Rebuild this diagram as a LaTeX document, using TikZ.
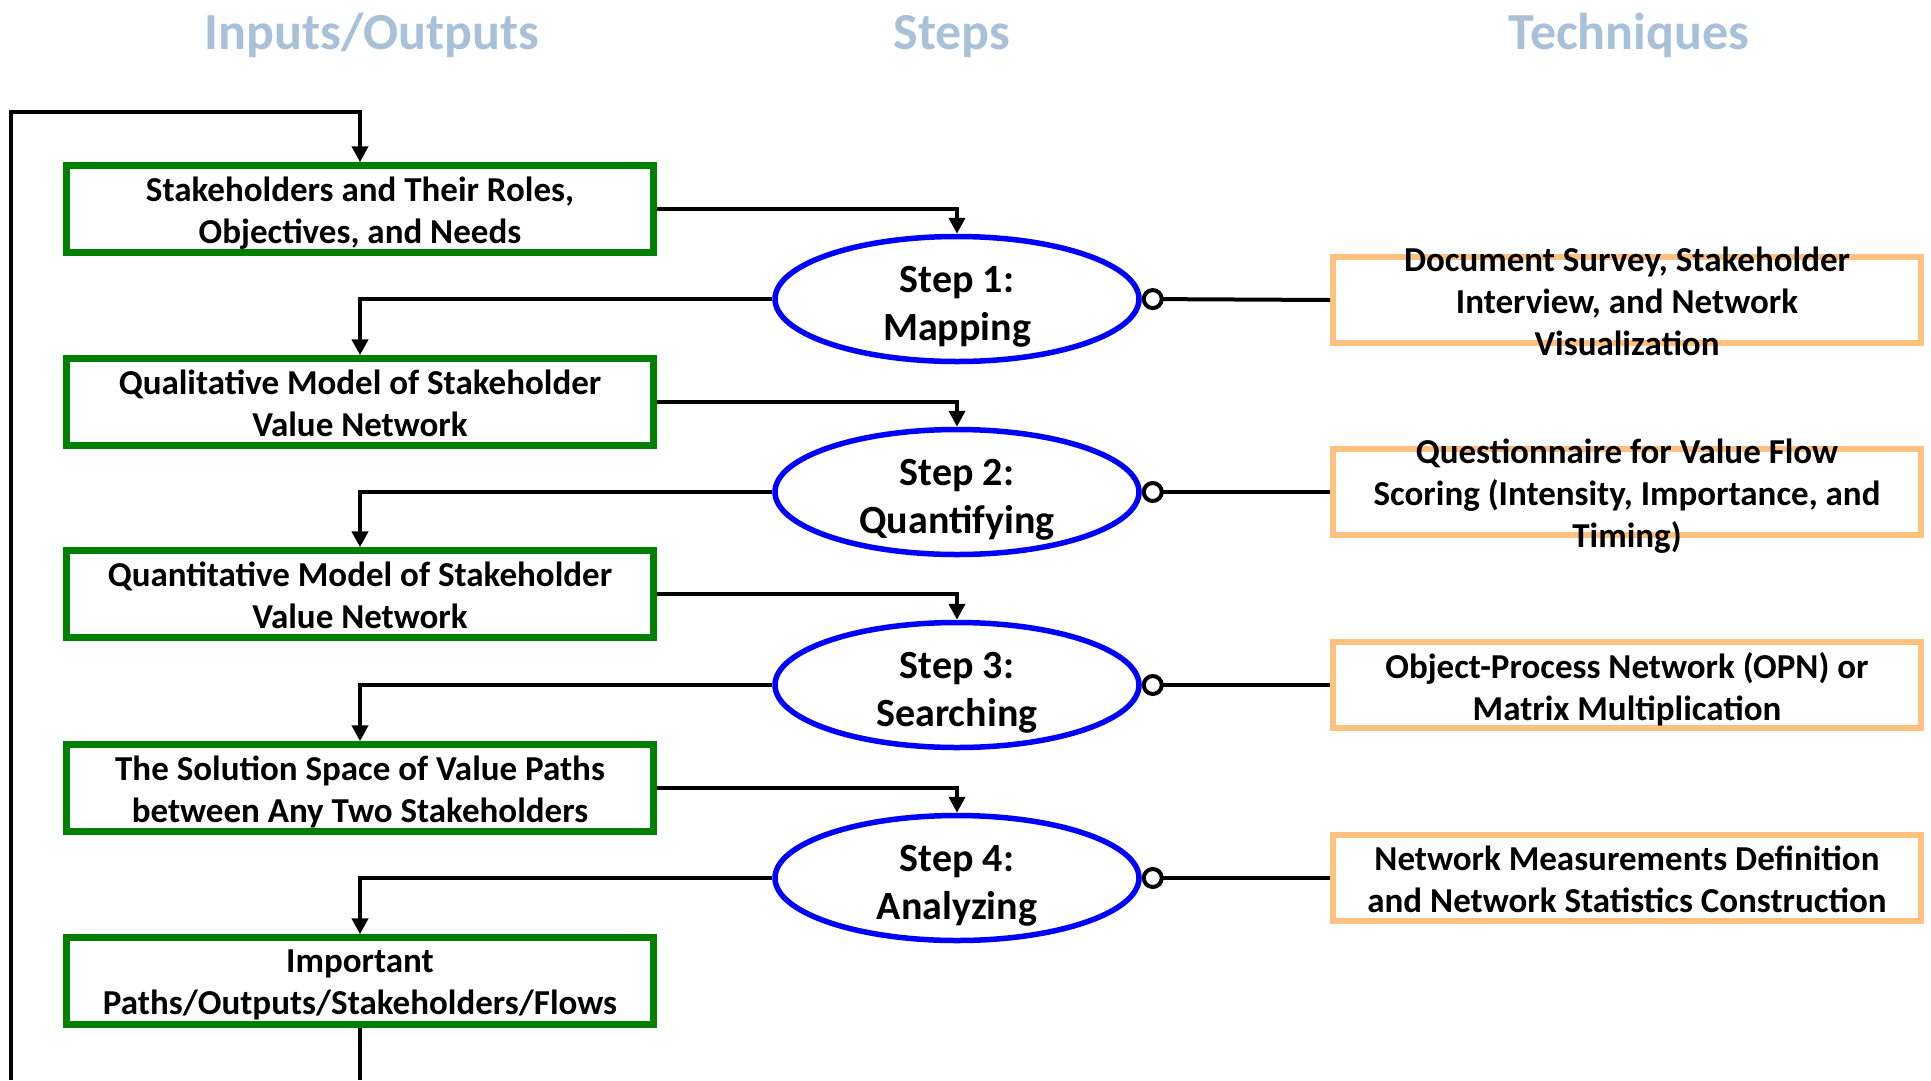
\documentclass[tikz,border=0pt]{standalone}
\usepackage{fontspec}
\setmainfont{Carlito}
\usetikzlibrary{arrows.meta,shapes.geometric}
\definecolor{grn}{RGB}{0,128,0}
\definecolor{blu}{RGB}{0,0,255}
\definecolor{org}{RGB}{255,192,128}
\definecolor{hdr}{RGB}{168,192,216}
\begin{document}
\begin{tikzpicture}[x=1pt,y=-1pt,
  gbox/.style={draw=grn,line width=6.5pt,minimum width=587pt,minimum height=87pt,inner sep=0pt},
  gtext/.style={align=center,inner sep=0pt,yshift=-7.5pt,execute at begin node=\strut,execute at end node=\strut,font=\fontsize{35}{42}\selectfont\bfseries},
  stepell/.style={ellipse,draw=blu,line width=5.5pt,minimum width=364pt,minimum height=125pt,inner sep=0pt},
  steptext/.style={align=center,inner sep=0pt,yshift=-11.5pt,execute at begin node=\strut,execute at end node=\strut,font=\fontsize{40}{48}\selectfont\bfseries},
  obox/.style={draw=org,line width=6pt,minimum width=588pt,minimum height=86pt,inner sep=0pt},
  otext/.style={align=center,inner sep=0pt,yshift=-7.5pt,execute at begin node=\strut,execute at end node=\strut,font=\fontsize{35}{42}\selectfont\bfseries},
  hdrtext/.style={text=hdr,anchor=base,inner sep=0pt,font=\fontsize{52}{60}\selectfont\bfseries},
  conn/.style={line width=4pt,-{Triangle[width=16pt,length=16pt]}},
  tech/.style={line width=4pt,{Circle[open,length=22pt,width=22pt]}-},
  plain/.style={line width=4pt}]
\useasboundingbox (0,0) rectangle (1931,1080);

\node[hdrtext] (h1) at (372,49) {Inputs/Outputs};
\node[hdrtext] (h2) at (952,49) {Steps};
\node[hdrtext] (h3) at (1629,49) {Techniques};

\node[gbox] (b1) at (360,209) {};
\node[gbox] (b2) at (360,402) {};
\node[gbox] (b3) at (360,594) {};
\node[gbox] (b4) at (360,788) {};
\node[gbox] (b5) at (360,981) {};
\node[gtext] (g1) at (b1.center) {Stakeholders and Their Roles,\\Objectives, and Needs};
\node[gtext] (g2) at (b2.center) {Qualitative Model of Stakeholder\\Value Network};
\node[gtext] (g3) at (b3.center) {Quantitative Model of Stakeholder\\Value Network};
\node[gtext] (g4) at (b4.center) {The Solution Space of Value Paths\\between Any Two Stakeholders};
\node[gtext] (g5) at (b5.center) {Important\\Paths/Outputs/Stakeholders/Flows};

\node[stepell] (s1) at (957,299) {};
\node[stepell] (s2) at (957,492) {};
\node[stepell] (s3) at (957,685) {};
\node[stepell] (s4) at (957,878) {};
\node[steptext] (e1) at (s1.center) {Step 1:\\Mapping};
\node[steptext] (e2) at (s2.center) {Step 2:\\Quantifying};
\node[steptext] (e3) at (s3.center) {Step 3:\\Searching};
\node[steptext] (e4) at (s4.center) {Step 4:\\Analyzing};

\node[obox] (t1) at (1627,300) {};
\node[obox] (t2) at (1627,492) {};
\node[obox] (t3) at (1627,685) {};
\node[obox] (t4) at (1627,878) {};
\node[otext] (l1) at (t1.center) {Document Survey, Stakeholder\\Interview, and Network\\Visualization};
\node[otext] (l2) at (t2.center) {Questionnaire for Value Flow\\Scoring (Intensity, Importance, and\\Timing)};
\node[otext] (l3) at (t3.center) {Object-Process Network (OPN) or\\Matrix Multiplication};
\node[otext] (l4) at (t4.center) {Network Measurements Definition\\and Network Statistics Construction};

\draw[conn] (b1.east) -| (s1.north);
\draw[conn] (s1.west) -| (b2.north);
\draw[conn] (b2.east) -| (s2.north);
\draw[conn] (s2.west) -| (b3.north);
\draw[conn] (b3.east) -| (s3.north);
\draw[conn] (s3.west) -| (b4.north);
\draw[conn] (b4.east) -| (s4.north);
\draw[conn] (s4.west) -| (b5.north);

\draw[tech] (s1.east) -- (t1.west);
\draw[tech] (s2.east) -- (t2.west);
\draw[tech] (s3.east) -- (t3.west);
\draw[tech] (s4.east) -- (t4.west);

\coordinate (lb) at (11,1080);
\coordinate (lt) at (11,112);
\coordinate (bb) at (360,1080);
\draw[conn] (lb) -- (lt) -| (b1.north);
\draw[plain] (b5.south) -- (bb);
\end{tikzpicture}
\end{document}
